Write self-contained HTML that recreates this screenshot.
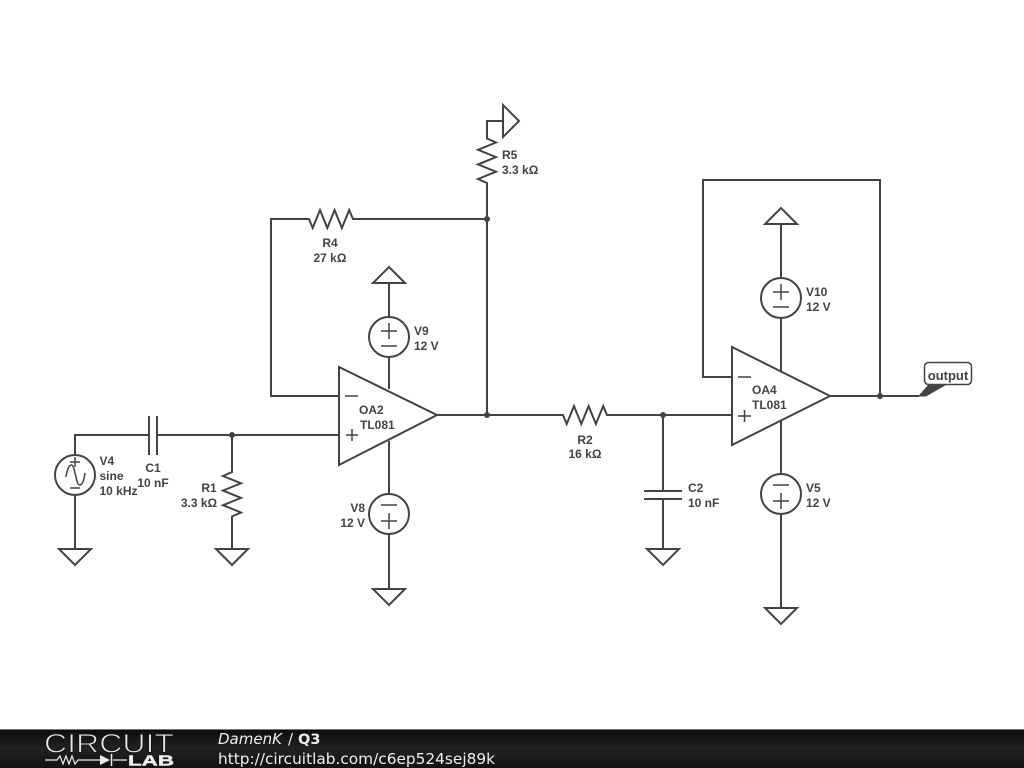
<!DOCTYPE html>
<html>
<head>
<meta charset="utf-8">
<style>
html,body{margin:0;padding:0;background:#fff;width:1024px;height:768px;overflow:hidden}
svg{display:block}
.d{filter:blur(0.35px)}
.w{fill:none;stroke:#444;stroke-width:2;stroke-linejoin:miter}
.t{font-family:"Liberation Sans",sans-serif;font-size:12px;font-weight:bold;fill:#444}
.m{text-anchor:middle}
.e{text-anchor:end}
</style>
</head>
<body>
<svg width="1024" height="768" viewBox="0 0 1024 768" xmlns="http://www.w3.org/2000/svg">
<rect width="1024" height="768" fill="#fff"/>
<defs>
<linearGradient id="g" x1="0" y1="0" x2="0" y2="1"><stop offset="0" stop-color="#0c0c0c"/><stop offset="0.5" stop-color="#222"/><stop offset="1" stop-color="#111"/></linearGradient>
</defs>

<g class="d">
<!-- wires -->
<g class="w">
<path d="M75 455V435H149M157 435H339"/>
<path d="M75 495V549"/>
<path d="M149 416V455M157 416V455"/>
<path d="M232 435V472l-9 4 18 7.300-18 7.300 18 7.300-18 7.300 18 7.300-9 4V549"/>
<circle cx="75" cy="475" r="20"/>
<path d="M59 549H91L75 565Z"/>
<path d="M216 549H248L232 565Z"/>

<path d="M339 367V465L437 415Z"/>
<path d="M339 396H271V219H309l3.700 9 7.300-18 7.300 18 7.300-18 7.300 18 7.300-18 3.800 9H487"/>
<path d="M389 283V317M389 357V389M389 441V494M389 534V589"/>
<circle cx="389" cy="337" r="20"/>
<circle cx="389" cy="514" r="20"/>
<path d="M373 283H405L389 267Z"/>
<path d="M373 589H405L389 605Z"/>

<path d="M437 415H563l3.700 9 7.300-18 7.300 18 7.300-18 7.300 18 7.300-18 3.800 9H732"/>
<path d="M487 415V183l-9-4 18-7.300-18-7.300 18-7.300-18-7.300 18-7.300-9-4V121H503"/>
<path d="M503 105V137L519 121Z"/>

<path d="M663 415V491M663 499V549"/>
<path d="M644 491H682M644 499H682"/>
<path d="M647 549H679L663 565Z"/>

<path d="M732 347V445L830 396Z"/>
<path d="M732 377H703V180H880V396"/>
<path d="M830 396H919"/>
<path d="M781 224V278M781 318V371M781 421V474M781 514V608"/>
<circle cx="781" cy="298" r="20"/>
<circle cx="781" cy="494" r="20"/>
<path d="M765 224H797L781 208Z"/>
<path d="M765 608H797L781 624Z"/>
</g>

<!-- source symbols -->
<g fill="none" stroke="#444" stroke-width="1.500">
<path d="M70 462H80M75 457V467M70 488H80"/>
<path d="M66 477C67 470 69 465 71.500 465C75 465 76 485 79.500 485C82 485 84 481 85 473"/>
<path d="M381 331H397M389 323V339M381 346H397"/>
<path d="M381 505H397M381 521H397M389 513V529"/>
<path d="M773 292H789M781 284V300M773 307H789"/>
<path d="M773 485H789M773 501H789M781 493V509"/>
<path d="M345 396H358M346 435H358M352 429V441"/>
<path d="M738 377H751M738 416H751M744.500 410V422"/>
</g>

<!-- junctions -->
<g fill="#444">
<circle cx="232" cy="435" r="3"/>
<circle cx="487" cy="219" r="3"/>
<circle cx="487" cy="415" r="3"/>
<circle cx="663" cy="415" r="3"/>
<circle cx="880" cy="396" r="3"/>
<path d="M918 396.500L928 385H946L926 396.500Z"/>
</g>

<!-- output tag -->
<rect x="924.500" y="362.500" width="47" height="22" rx="4" fill="#fff" stroke="#444" stroke-width="1.500"/>
<text class="t m" x="948" y="380" style="font-size:13px">output</text>

<!-- labels -->
<text class="t" x="99.500" y="465">V4</text>
<text class="t" x="99.500" y="480">sine</text>
<text class="t" x="99.500" y="495">10 kHz</text>
<text class="t m" x="153" y="472">C1</text>
<text class="t m" x="153" y="487">10 nF</text>
<text class="t m" x="209" y="492">R1</text>
<text class="t m" x="199" y="507">3.3 kΩ</text>
<text class="t m" x="330" y="247">R4</text>
<text class="t m" x="330" y="262">27 kΩ</text>
<text class="t" x="502" y="159">R5</text>
<text class="t" x="502" y="174">3.3 kΩ</text>
<text class="t" x="414" y="335">V9</text>
<text class="t" x="414" y="350">12 V</text>
<text class="t e" x="365" y="512">V8</text>
<text class="t e" x="365" y="527">12 V</text>
<text class="t" x="359" y="414">OA2</text>
<text class="t" x="360" y="429">TL081</text>
<text class="t m" x="585" y="444">R2</text>
<text class="t m" x="585" y="458">16 kΩ</text>
<text class="t" x="688" y="492">C2</text>
<text class="t" x="688" y="507">10 nF</text>
<text class="t" x="752" y="394">OA4</text>
<text class="t" x="752" y="409">TL081</text>
<text class="t" x="806" y="296">V10</text>
<text class="t" x="806" y="311">12 V</text>
<text class="t" x="806" y="492">V5</text>
<text class="t" x="806" y="507">12 V</text>
</g>

<!-- footer -->
<rect x="0" y="729" width="1024" height="39" fill="url(#g)"/>
<rect x="0" y="729" width="1024" height="1" fill="#777"/>
<text x="44" y="752.500" font-family="'Liberation Sans',sans-serif" font-size="27" fill="#e8e8e8" stroke="#151515" stroke-width="0.900" textLength="130" lengthAdjust="spacingAndGlyphs">CIRCUIT</text>
<path d="M45 760H57l3-4 3 8 3-8 3 8 3-8 3 8 3-4H100M113 760H127" fill="none" stroke="#eee" stroke-width="1.200"/>
<path d="M100 755V765L110 760Z" fill="#eee"/>
<path d="M111.500 754V766" stroke="#eee" stroke-width="1.500"/>
<text x="128" y="765.500" font-family="'Liberation Sans',sans-serif" font-size="14.500" font-weight="bold" fill="#eee" stroke="#eee" stroke-width="0.400" textLength="46" lengthAdjust="spacingAndGlyphs">LAB</text>
<text x="218" y="744" font-family="'DejaVu Sans',sans-serif" font-size="15" font-style="italic" fill="#eee">DamenK</text>
<text x="288" y="744" font-family="'DejaVu Sans',sans-serif" font-size="15" fill="#eee">/</text>
<text x="298" y="744" font-family="'DejaVu Sans',sans-serif" font-size="14.500" font-weight="bold" fill="#eee">Q3</text>
<text x="218" y="764" font-family="'DejaVu Sans',sans-serif" font-size="15" fill="#eee" textLength="277" lengthAdjust="spacingAndGlyphs">http://circuitlab.com/c6ep524sej89k</text>
</svg>
</body>
</html>
